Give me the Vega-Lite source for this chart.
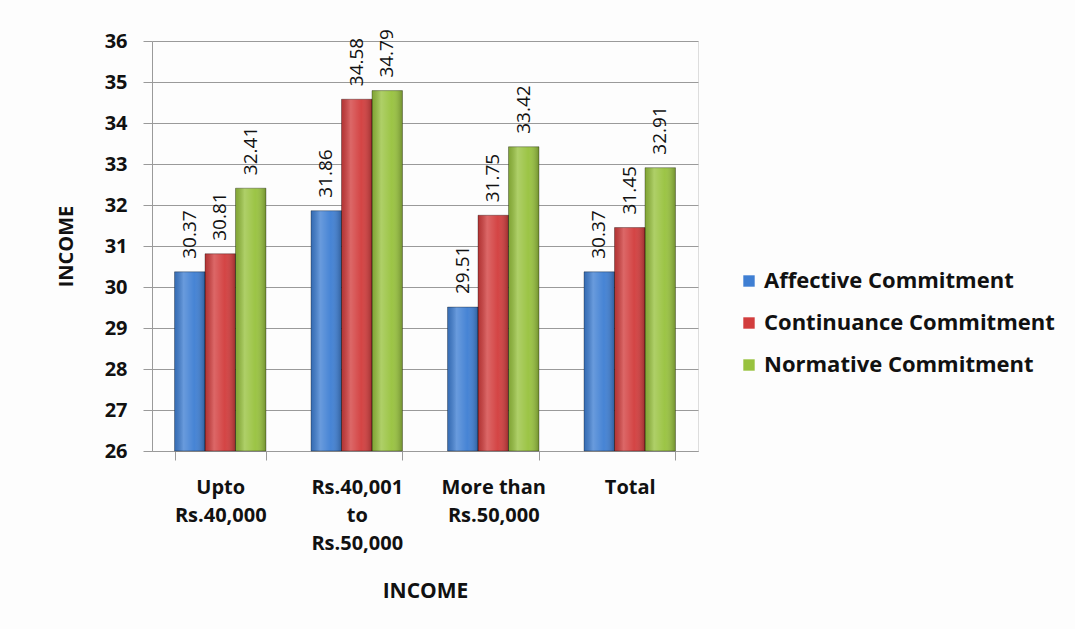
{
  "$schema": "https://vega.github.io/schema/vega-lite/v6.json",
  "autosize": {"type": "none"},
  "width": 546,
  "height": 410,
  "padding": {"left": 152, "top": 41, "right": 377, "bottom": 178},
  "background": "#fdfdfd",
  "data": {
    "values": [
      {"income": "Upto|Rs.40,000", "series": "Affective Commitment", "score": 30.37},
      {"income": "Upto|Rs.40,000", "series": "Continuance Commitment", "score": 30.81},
      {"income": "Upto|Rs.40,000", "series": "Normative Commitment", "score": 32.41},
      {"income": "Rs.40,001|to|Rs.50,000", "series": "Affective Commitment", "score": 31.86},
      {"income": "Rs.40,001|to|Rs.50,000", "series": "Continuance Commitment", "score": 34.58},
      {"income": "Rs.40,001|to|Rs.50,000", "series": "Normative Commitment", "score": 34.79},
      {"income": "More than|Rs.50,000", "series": "Affective Commitment", "score": 29.51},
      {"income": "More than|Rs.50,000", "series": "Continuance Commitment", "score": 31.75},
      {"income": "More than|Rs.50,000", "series": "Normative Commitment", "score": 33.42},
      {"income": "Total", "series": "Affective Commitment", "score": 30.37},
      {"income": "Total", "series": "Continuance Commitment", "score": 31.45},
      {"income": "Total", "series": "Normative Commitment", "score": 32.91}
    ]
  },
  "encoding": {
    "x": {
      "field": "income",
      "type": "nominal",
      "sort": ["Upto|Rs.40,000", "Rs.40,001|to|Rs.50,000", "More than|Rs.50,000", "Total"],
      "scale": {"paddingInner": 0.33, "paddingOuter": 0.165},
      "axis": {
        "title": "INCOME",
        "labelExpr": "datum.value ? split(datum.value, '|') : ''",
        "labelAngle": 0,
        "labelFont": "Open Sans",
        "labelFontWeight": "bold",
        "labelFontSize": 20,
        "labelColor": "#111111",
        "labelLineHeight": 28,
        "labelPadding": 17,
        "tickBand": "extent",
        "tickSize": 9,
        "tickColor": "#9a9a9a",
        "domainColor": "#9a9a9a",
        "titleFont": "Open Sans",
        "titleFontWeight": "bold",
        "titleFontSize": 21,
        "titleColor": "#111111",
        "titlePadding": 27
      }
    },
    "xOffset": {
      "field": "series",
      "type": "nominal",
      "scale": {"paddingInner": 0, "paddingOuter": 0}
    },
    "y": {
      "field": "score",
      "type": "quantitative",
      "scale": {"domain": [26, 36], "nice": false, "zero": false},
      "axis": {
        "title": "INCOME",
        "values": [26, 27, 28, 29, 30, 31, 32, 33, 34, 35, 36],
        "grid": true,
        "gridColor": "#9a9a9a",
        "gridWidth": 1,
        "tickSize": 9,
        "tickColor": "#9a9a9a",
        "domainColor": "#9a9a9a",
        "labelFont": "Open Sans",
        "labelFontWeight": "bold",
        "labelFontSize": 20,
        "labelColor": "#111111",
        "labelPadding": 16,
        "titleFont": "Open Sans",
        "titleFontWeight": "bold",
        "titleFontSize": 20,
        "titleColor": "#111111",
        "titlePadding": 28
      }
    }
  },
  "layer": [
    {
      "mark": {"type": "bar"},
      "encoding": {
        "y2": {"datum": 26},
        "color": {
          "field": "series",
          "type": "nominal",
          "scale": {
            "domain": ["Affective Commitment", "Continuance Commitment", "Normative Commitment"],
            "range": ["#3f7fd3", "#d23d3d", "#98c23e"]
          },
          "legend": {
            "title": null,
            "orient": "none",
            "legendX": 586,
            "legendY": 229,
            "padding": 0,
            "symbolType": "square",
            "symbolSize": 130,
            "symbolStrokeWidth": 0,
            "labelFont": "Open Sans",
            "labelFontWeight": "bold",
            "labelFontSize": 22,
            "labelColor": "#111111",
            "labelOffset": 4,
            "rowPadding": 20,
            "labelLimit": 400
          }
        }
      }
    },
    {
      "mark": {
        "type": "bar",
        "stroke": "rgba(0,0,0,0.4)",
        "strokeWidth": 0.8,
        "fill": {
          "gradient": "linear",
          "x1": 0, "y1": 0, "x2": 1, "y2": 0,
          "stops": [
            {"offset": 0, "color": "rgba(0,0,0,0.15)"},
            {"offset": 0.3, "color": "rgba(255,255,255,0.22)"},
            {"offset": 0.65, "color": "rgba(255,255,255,0.04)"},
            {"offset": 1, "color": "rgba(0,0,0,0.26)"}
          ]
        }
      },
      "encoding": {
        "y2": {"datum": 26}
      }
    },
    {
      "mark": {
        "type": "text",
        "angle": 270,
        "align": "left",
        "baseline": "middle",
        "dx": 13,
        "font": "Open Sans",
        "fontSize": 19,
        "color": "#111111"
      },
      "encoding": {
        "text": {"field": "score", "type": "quantitative", "format": ".2f"}
      }
    }
  ]
}
